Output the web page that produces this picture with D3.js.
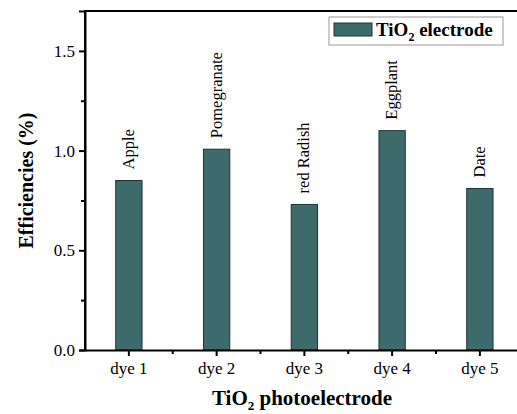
<!DOCTYPE html>
<html>
<head>
<meta charset="utf-8">
<script src="https://cdn.jsdelivr.net/npm/d3@7"></script>
<style>
  body { margin: 0; background: #fff; }
  svg { display: block; font-family: "Liberation Serif", "Times New Roman", serif; }
</style>
</head>
<body>
<div id="chart"></div>
<script>
// chart data
var dyes = ["dye 1", "dye 2", "dye 3", "dye 4", "dye 5"];
var fruits = ["Apple", "Pomegranate", "red Radish", "Eggplant", "Date"];
var efficiencies = [0.85, 1.007, 0.73, 1.10, 0.81];
var yTicks = [0.0, 0.5, 1.0, 1.5];
var yMinor = [0.25, 0.75, 1.25];

var width = 517, height = 414;
var plotLeft = 85, plotTop = 11, plotBottom = 350;
var step = 87.75;
var plotRight = plotLeft + step * dyes.length;

var svg = d3.select("#chart").append("svg")
  .attr("width", width)
  .attr("height", height);

var x = d3.scaleBand().domain(dyes).range([plotLeft, plotRight]).paddingInner(0.7).paddingOuter(0.35);
var y = d3.scaleLinear().domain([0, 1.7]).range([plotBottom, plotTop]);

// bars
svg.selectAll("rect.bar")
  .data(efficiencies)
  .join("rect")
  .attr("class", "bar")
  .attr("x", function (d, i) { return x(dyes[i]); })
  .attr("y", function (d) { return y(d); })
  .attr("width", x.bandwidth())
  .attr("height", function (d) { return plotBottom - y(d); })
  .attr("fill", "#3d6b6b")
  .attr("stroke", "#1f3535")
  .attr("stroke-width", 1);

// rotated labels above bars
svg.selectAll("text.fruit")
  .data(efficiencies)
  .join("text")
  .attr("class", "fruit")
  .attr("transform", function (d, i) {
    var cx = x(dyes[i]) + x.bandwidth() / 2;
    return "translate(" + cx + "," + (y(d) - 11) + ") rotate(-90)";
  })
  .attr("dy", "0.3em")
  .attr("font-size", 16.5)
  .text(function (d, i) { return fruits[i]; });

// frame
svg.append("path")
  .attr("d", "M" + plotLeft + "," + plotBottom + "V" + plotTop + "H" + plotRight)
  .attr("fill", "none")
  .attr("stroke", "#000")
  .attr("stroke-width", 2);

// y axis
var yAxis = svg.append("g")
  .attr("transform", "translate(" + plotLeft + ",0)")
  .call(d3.axisLeft(y).tickValues(yTicks).tickFormat(d3.format(".1f")).tickSize(6).tickPadding(4));
yAxis.select(".domain").attr("stroke-width", 2);
yAxis.selectAll(".tick line").attr("stroke-width", 2);
yAxis.selectAll("text").attr("font-size", 17).attr("font-family", "Liberation Serif").attr("fill", "#000");

svg.append("g")
  .attr("transform", "translate(" + plotLeft + ",0)")
  .call(d3.axisLeft(y).tickValues(yMinor).tickFormat("").tickSize(4))
  .call(function (g) { g.select(".domain").remove(); })
  .selectAll("line").attr("stroke-width", 2);

// x axis
var xAxis = svg.append("g")
  .attr("transform", "translate(0," + plotBottom + ")")
  .call(d3.axisBottom(x).tickSize(6).tickPadding(6).tickSizeOuter(0));
xAxis.select(".domain").attr("stroke-width", 2);
xAxis.selectAll(".tick line").attr("stroke-width", 2);
xAxis.selectAll("text").attr("font-size", 17).attr("font-family", "Liberation Serif").attr("fill", "#000");

// minor ticks between categories
var xMinor = dyes.slice(1).map(function (d, i) { return plotLeft + step * (i + 1); });
svg.selectAll("line.xminor")
  .data(xMinor)
  .join("line")
  .attr("class", "xminor")
  .attr("x1", function (d) { return d; })
  .attr("x2", function (d) { return d; })
  .attr("y1", plotBottom)
  .attr("y2", plotBottom + 4)
  .attr("stroke", "#000")
  .attr("stroke-width", 2);

// axis titles
svg.append("text")
  .attr("transform", "translate(33," + (plotTop + plotBottom) / 2 + ") rotate(-90)")
  .attr("text-anchor", "middle")
  .attr("font-weight", "bold")
  .attr("font-size", 20)
  .text("Efficiencies (%)");

var xt = svg.append("text")
  .attr("x", 302)
  .attr("y", 405)
  .attr("text-anchor", "middle")
  .attr("font-weight", "bold")
  .attr("font-size", 21);
xt.append("tspan").text("TiO");
xt.append("tspan").attr("font-size", 13).attr("dy", 5).text("2");
xt.append("tspan").attr("dy", -5).text(" photoelectrode");

// legend
var lg = svg.append("g").attr("transform", "translate(329,17)");
lg.append("rect")
  .attr("width", 174).attr("height", 28)
  .attr("fill", "#fff").attr("stroke", "#999").attr("stroke-width", 1);
lg.append("rect")
  .attr("x", 5).attr("y", 6).attr("width", 38).attr("height", 13)
  .attr("fill", "#3d6b6b").attr("stroke", "#1f3535").attr("stroke-width", 1);
var lt = lg.append("text")
  .attr("x", 47).attr("y", 19)
  .attr("font-weight", "bold")
  .attr("font-size", 19);
lt.append("tspan").text("TiO");
lt.append("tspan").attr("font-size", 12).attr("dy", 5).text("2");
lt.append("tspan").attr("dy", -5).text(" electrode");
</script>
</body>
</html>
